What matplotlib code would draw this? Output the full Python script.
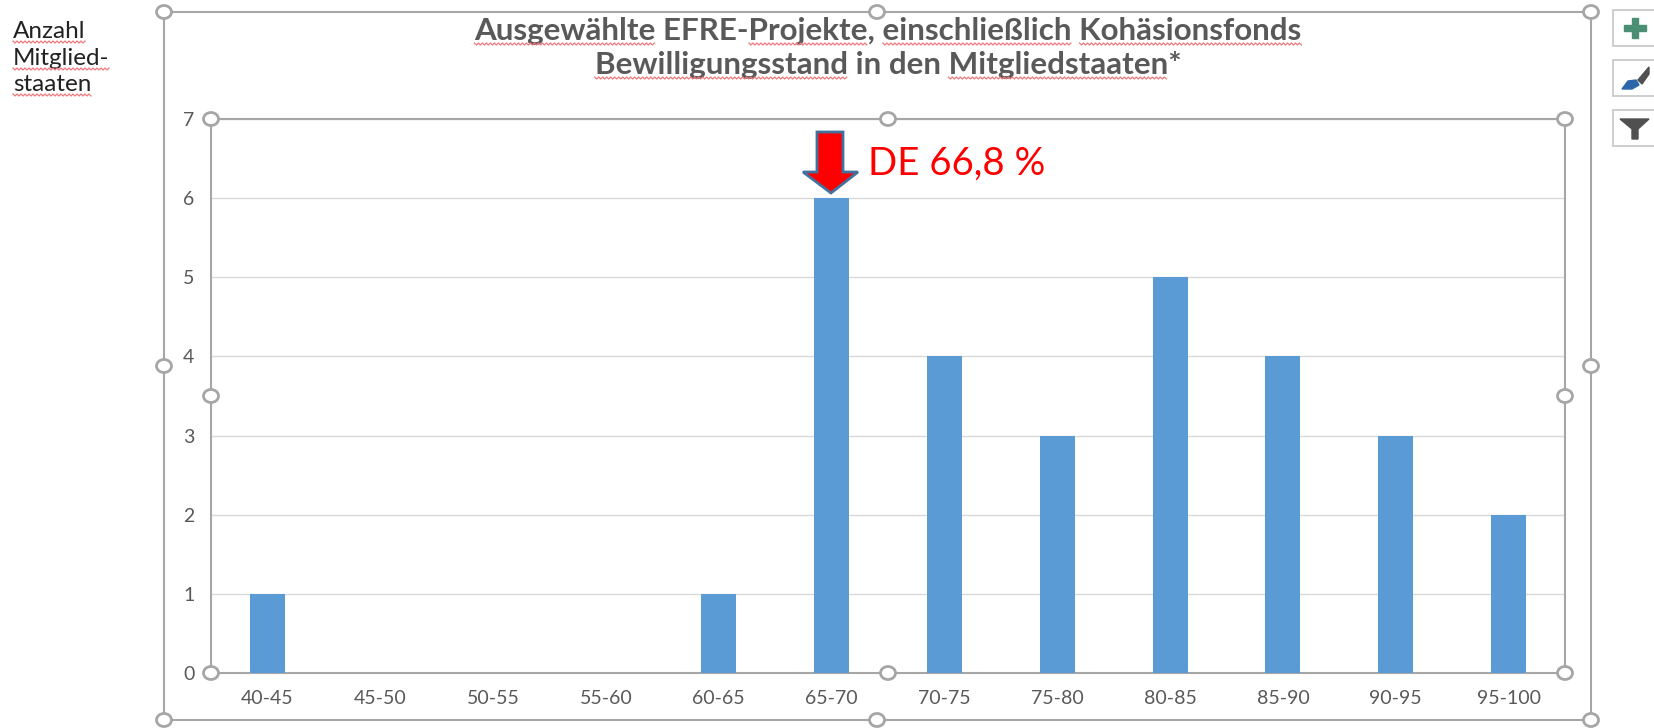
import numpy as np
import matplotlib
matplotlib.use("Agg")
import matplotlib.pyplot as plt
from matplotlib.patches import Ellipse, Polygon, Rectangle

categories = ["40-45", "45-50", "50-55", "55-60", "60-65", "65-70",
              "70-75", "75-80", "80-85", "85-90", "90-95", "95-100"]
counts = [1, 0, 0, 0, 1, 6, 4, 3, 5, 4, 3, 2]
title_lines = ["Ausgewählte EFRE-Projekte, einschließlich Kohäsionsfonds",
               "Bewilligungsstand in den Mitgliedstaaten*"]
title_marked = [["Ausgewählte", "Projekte", "einschließlich", "Kohäsionsfonds"],
                ["Bewilligungsstand", "Mitgliedstaaten"]]
side_lines = ["Anzahl", "Mitglied-", "staaten"]
callout = "DE 66,8 %"

W, H = 1654, 728
plt.rcParams['font.family'] = ['Lato', 'DejaVu Sans']
fig = plt.figure(figsize=(W / 100, H / 100), dpi=100)

# plot area, placed in pixels
left, right, top, bottom = 211, 1565, 119, 673
ax = fig.add_axes([left / W, 1 - bottom / H, (right - left) / W, (bottom - top) / H])
ax.bar(range(len(counts)), counts, width=0.31, color='#5B9BD5', zorder=3)
ax.set_xlim(-0.5, len(counts) - 0.5)
ax.set_ylim(0, 7)
ax.set_xticks(range(len(categories)))
ax.set_xticklabels(categories)
ax.set_yticks(range(8))
ax.tick_params(axis='both', length=0, labelsize=14, labelcolor='#595959')
ax.tick_params(axis='x', pad=12)
ax.tick_params(axis='y', pad=12)
ax.grid(axis='y', color='#D9D9D9', linewidth=1, zorder=0)
for s in ax.spines.values():
    s.set_color('#A6A6A6')
    s.set_linewidth(1.5)

# overlay in pixel coordinates for the selection frame and annotations
ov = fig.add_axes([0, 0, 1, 1], facecolor='none')
ov.set_xlim(0, W)
ov.set_ylim(H, 0)
ov.axis('off')

ov.add_patch(Rectangle((164, 12), 1427, 708, fill=False, edgecolor='#A6A6A6', linewidth=1.5))


def handles(points):
    for x, y in points:
        ov.add_patch(Ellipse((x, y), 15, 13, facecolor='white', edgecolor='#A6A6A6',
                             linewidth=2, zorder=6))


handles([(164, 12), (877, 12), (1591, 12), (164, 366), (1591, 366), (164, 720), (877, 720),
         (1591, 720)])
handles([(left, top), (888, top), (right, top), (left, 396), (right, 396),
         (left, bottom), (888, bottom), (right, bottom)])

renderer = fig.canvas.get_renderer()


def text_width(s, **kw):
    t = ov.text(0, 0, s, **kw)
    w = t.get_window_extent(renderer).width
    t.remove()
    return w


def squiggle(x0, x1, y):
    # red spell-check underline
    xs = np.arange(x0, x1, 2.0)
    ys = y + np.where(np.arange(len(xs)) % 2 == 0, 0, 2)
    ov.plot(xs, ys, color='#F0787C', linewidth=0.9, zorder=7)


title_kw = dict(fontsize=22.6, fontweight='bold')
for line, marked, y in zip(title_lines, title_marked, [40, 74]):
    ov.text(888, y, line, ha='center', va='baseline', color='#595959', **title_kw)
    total = text_width(line, **title_kw)
    for word in marked:
        start = line.index(word)
        x0 = 888 - total / 2 + text_width(line[:start] + "|", **title_kw) \
            - text_width("|", **title_kw)
        squiggle(x0, x0 + text_width(word, **title_kw), y + 3)

for line, y in zip(side_lines, [38, 65, 91]):
    ov.text(13, y, line, ha='left', va='baseline', fontsize=17.5, color='#222222')
    squiggle(13, 13 + text_width(line, fontsize=17.5), y + 3)

# red arrow pointing at the 65-70 bar
ov.add_patch(Polygon([(817, 132), (843, 132), (843, 172), (858, 172), (831, 193),
                      (803, 172), (817, 172)], closed=True, facecolor='#FF0000',
                     edgecolor='#41719C', linewidth=2, zorder=5))
ov.text(868, 164, callout, ha='left', va='center', fontsize=27.6, color='#FF0000')

# chart tool buttons on the right edge
for y in [10, 60, 110]:
    ov.add_patch(Rectangle((1613, y), 50, 36, facecolor='white', edgecolor='#C6C6C6',
                           linewidth=1.2))
ov.add_patch(Rectangle((1624, 25), 22, 6, color='#4A8F73'))
ov.add_patch(Rectangle((1632, 18), 6, 20, color='#4A8F73'))
ov.add_patch(Polygon([(1622, 89), (1628, 81), (1636, 80), (1639, 85), (1632, 89)],
                     color='#2B67A8'))
ov.add_patch(Polygon([(1638, 80), (1649, 67), (1649, 74), (1642, 84)], color='#505050'))
ov.add_patch(Polygon([(1620, 119), (1649, 119), (1638, 129), (1638, 139), (1632, 139),
                      (1632, 129)], color='#505050'))

fig.savefig('out.png', dpi=100)
